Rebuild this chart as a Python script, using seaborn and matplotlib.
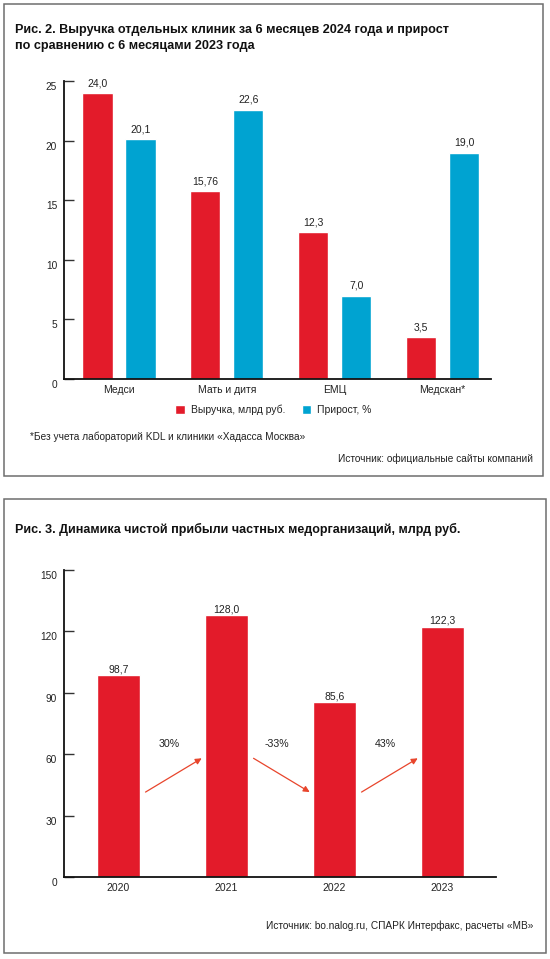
import matplotlib
matplotlib.use("Agg")
import matplotlib.pyplot as plt
import matplotlib.transforms as mtransforms
from matplotlib.patches import Rectangle
import seaborn as sns
import pandas as pd

# ---------------- data ----------------
clinics = ["Медси", "Мать и дитя", "ЕМЦ", "Медскан*"]
revenue = [24.0, 15.76, 12.3, 3.5]          # млрд руб.
growth = [20.1, 22.6, 7.0, 19.0]            # %
series_names = ["Выручка, млрд руб.", "Прирост, %"]
y1_ticks = [0, 5, 10, 15, 20, 25]

years = ["2020", "2021", "2022", "2023"]
profit = [98.7, 128.0, 85.6, 122.3]         # млрд руб.
change_labels = ["30%", "-33%", "43%"]
y2_ticks = [0, 30, 60, 90, 120, 150]

title1 = "Рис. 2. Выручка отдельных клиник за 6 месяцев 2024 года и прирост\nпо сравнению с 6 месяцами 2023 года"
title2 = "Рис. 3. Динамика чистой прибыли частных медорганизаций, млрд руб."
note1 = "*Без учета лабораторий KDL и клиники «Хадасса Москва»"
source1 = "Источник: официальные сайты компаний"
source2 = "Источник: bo.nalog.ru, СПАРК Интерфакс, расчеты «МВ»"

RED = "#E31B2A"
BLUE = "#00A3D1"
ARROW = "#E8452C"
TXT = "#222222"

sns.set_theme(style="white")
plt.rcParams["font.family"] = ["Liberation Sans", "DejaVu Sans"]
plt.rcParams["text.color"] = TXT

W, H = 550, 959
fig = plt.figure(figsize=(W / 100, H / 100), dpi=100)


def px_axes(left, top, right, bottom):
    return fig.add_axes([left / W, 1 - bottom / H, (right - left) / W, (bottom - top) / H])


def fmt(v):
    return str(v).replace(".", ",")


def style_axis(ax, ticks, xpad):
    ax.set_yticks(ticks)
    ax.set_yticklabels([str(t) for t in ticks])
    ax.tick_params(axis="y", direction="in", length=7.5, width=1.0, color="#333333",
                   labelsize=7.3, pad=5, labelcolor=TXT, left=True)
    ax.tick_params(axis="x", length=0, labelsize=7.5, pad=xpad, labelcolor=TXT)
    for s in ["top", "right"]:
        ax.spines[s].set_visible(False)
    for s in ["left", "bottom"]:
        ax.spines[s].set_color("#111111")
        ax.spines[s].set_linewidth(1.3)
    ax.set_xlabel("")
    ax.set_ylabel("")
    ax.grid(False)
    off = mtransforms.ScaledTranslation(0, -5 / 100, fig.dpi_scale_trans)
    for lab in ax.get_yticklabels():
        lab.set_transform(lab.get_transform() + off)


# ---------------- chart 1 ----------------
df1 = pd.DataFrame({
    "clinic": clinics * 2,
    "value": revenue + growth,
    "series": [series_names[0]] * len(clinics) + [series_names[1]] * len(clinics),
})
ax1 = px_axes(64, 81, 491, 379)
sns.barplot(data=df1, x="clinic", y="value", hue="series", palette=[RED, BLUE],
            hue_order=series_names, order=clinics, gap=0.3, width=0.8,
            saturation=1, legend=True, ax=ax1, errorbar=None)
ax1.set_ylim(0, 25)
ax1.set_xlim(-0.51, 3.45)
for cont, vals in zip(ax1.containers, [revenue, growth]):
    ax1.bar_label(cont, labels=[fmt(v) for v in vals], padding=3.5, fontsize=7.5, color=TXT)
style_axis(ax1, y1_ticks, 4)
sns.move_legend(ax1, loc="center", bbox_to_anchor=(0.49, -0.104), ncol=2, frameon=False,
                title=None, fontsize=7.5, handlelength=0.95, handleheight=0.95,
                handletextpad=0.5, columnspacing=1.6, borderaxespad=0)

# ---------------- chart 2 ----------------
df2 = pd.DataFrame({"year": years, "profit": profit})
ax2 = px_axes(64, 570, 496, 877)
sns.barplot(data=df2, x="year", y="profit", color=RED, saturation=1, width=0.4,
            ax=ax2, errorbar=None)
ax2.set_ylim(0, 150)
ax2.set_xlim(-0.505, 3.495)
ax2.bar_label(ax2.containers[0], labels=[fmt(v) for v in profit], padding=0.5,
              fontsize=7.5, color=TXT)
style_axis(ax2, y2_ticks, 4.5)

y_low, y_high = 41.5, 58
for i, lab in enumerate(change_labels):
    up = profit[i + 1] >= profit[i]
    start = (i + 0.25, y_low if up else y_high)
    end = (i + 0.77, y_high if up else y_low)
    ax2.annotate("", xy=end, xytext=start,
                 arrowprops=dict(arrowstyle="-|>", color=ARROW, lw=0.9,
                                 mutation_scale=9, shrinkA=0, shrinkB=0))
    ax2.text(i + 0.47, 65, lab, ha="center", va="center", fontsize=7.7, color=TXT)

# ---------------- texts & frames ----------------
fig.text(15 / W, 1 - 30 / H, title1.split("\n")[0], ha="left", va="center", fontsize=9.1,
         fontweight="bold", color="#111111")
fig.text(15 / W, 1 - 46 / H, title1.split("\n")[1], ha="left", va="center", fontsize=9.1,
         fontweight="bold", color="#111111")
fig.text(15 / W, 1 - 529 / H, title2, ha="left", va="center", fontsize=9.0,
         fontweight="bold", color="#111111")
fig.text(30 / W, 1 - 437 / H, note1, ha="left", va="center", fontsize=7.25, color=TXT)
fig.text(533 / W, 1 - 459 / H, source1, ha="right", va="center", fontsize=7.3, color=TXT)
fig.text(533 / W, 1 - 926 / H, source2, ha="right", va="center", fontsize=7.3, color=TXT)

for (l, t, r, b) in [(4, 4, 543, 476), (4, 499, 546, 953)]:
    fig.add_artist(Rectangle((l / W, 1 - b / H), (r - l) / W, (b - t) / H,
                             transform=fig.transFigure, fill=False,
                             edgecolor="#6e6e6e", linewidth=1.1))

fig.savefig("out.png", dpi=100)
